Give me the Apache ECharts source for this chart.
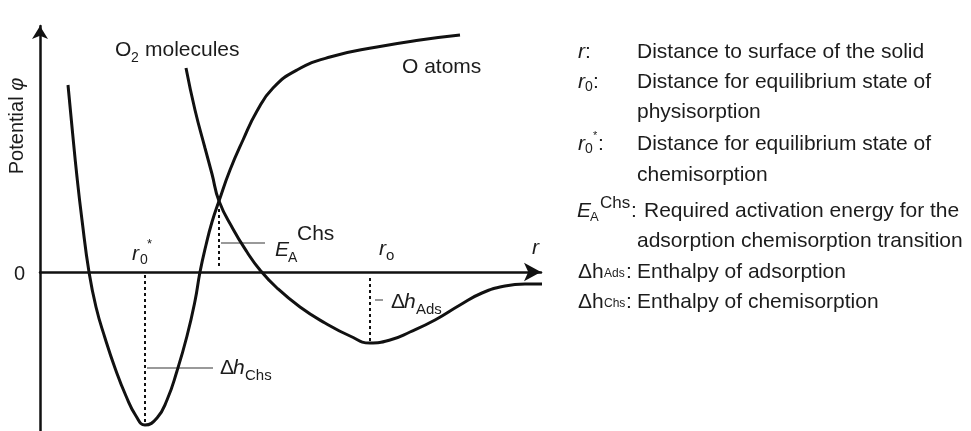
<!DOCTYPE html>
<html>
<head>
<meta charset="utf-8">
<script src="https://cdn.jsdelivr.net/npm/echarts@6/dist/echarts.min.js"></script>
<style>
  html, body { margin: 0; padding: 0; background: #fff; }
  #chart { width: 971px; height: 431px; }
</style>
</head>
<body>
<div id="chart"></div>
<script>
// Potential energy vs. distance r from the solid surface (arbitrary units)
// Chemisorption well: O atoms
const rAtoms   = [5.6, 6.4, 7.4, 8.4, 9.8, 11.2, 13, 15, 17.2, 19.2, 21, 23.4, 25.4, 27.4, 29.4, 31, 32, 33.2, 34.4, 35.8, 38, 40.6, 43.4, 46.6, 51.4, 58, 67.4, 76, 84];
const phiAtoms = [18.7, 14.5, 9.5, 5.2, 0, -3.5, -6.6, -9.6, -12.4, -14.4, -15.3, -14.6, -12.8, -9.9, -6.4, -2.9, 0, 2.7, 5.0, 7.1, 10.2, 13.2, 16.1, 18.4, 20.2, 21.5, 22.5, 23.2, 23.7];
// Physisorption well: O2 molecules
const rMolecules   = [29.2, 31, 33, 34.4, 35.8, 38.6, 41.4, 44, 47.4, 52, 57, 62, 66, 70, 74, 79, 84, 88.4, 93, 97, 100.4];
const phiMolecules = [20.4, 16.2, 12.4, 9.8, 7.1, 4.3, 2.0, 0.2, -1.6, -3.5, -5.1, -6.4, -7.1, -6.8, -6.0, -4.8, -3.3, -2.1, -1.4, -1.2, -1.2];

// Characteristic points
const r0Star = 21;      // equilibrium distance, chemisorption
const dhChs = -15.3;    // enthalpy of chemisorption (well depth)
const rCross = 35.8;    // crossing of the two curves
const eaChs = 7.1;      // activation energy for the transition
const r0 = 66;          // equilibrium distance, physisorption
const dhAds = -7.1;     // enthalpy of adsorption (well depth)

// Legend rows: symbol part and description
const legendRows = [
  { key: 'r', text: 'Distance to surface of the solid' },
  { key: 'r0', text: 'Distance for equilibrium state of' },
  { key: '', text: 'physisorption' },
  { key: 'r0s', text: 'Distance for equilibrium state of' },
  { key: '', text: 'chemisorption' },
  { key: 'EA', text: 'Required activation energy for the' },
  { key: '', text: 'adsorption chemisorption transition' },
  { key: 'dhAds', text: 'Enthalpy of adsorption' },
  { key: 'dhChs', text: 'Enthalpy of chemisorption' }
];

const FONT = '"Liberation Sans", Arial, Helvetica, sans-serif';
const INK = '#1c1c1c';

function txt(x, y, s, size, italic, extra) {
  return Object.assign({
    type: 'text', x: x, y: y, z: 20,
    style: {
      text: s,
      font: (italic ? 'italic ' : '') + size + 'px ' + FONT,
      fill: INK, align: 'left', verticalAlign: 'middle'
    }
  }, extra || {});
}

const zip = (xs, ys) => xs.map((x, i) => [x, ys[i]]);

const chart = echarts.init(document.getElementById('chart'), null, { renderer: 'canvas' });

const lineBase = { type: 'line', showSymbol: false, symbol: 'none', silent: true, animation: false };
const dotted = { color: '#111', width: 2, type: [3, 3] };
const leader = { color: '#777', width: 1.3 };

const option = {
  backgroundColor: '#fff',
  animation: false,
  grid: { left: 40, width: 501, top: 26, bottom: 0 },
  xAxis: {
    type: 'value', min: 0, max: 100.2,
    axisLine: { onZero: true, symbol: ['none', 'arrow'], symbolSize: [14, 17], lineStyle: { color: '#111', width: 2.5 } },
    axisTick: { show: false }, axisLabel: { show: false }, splitLine: { show: false }
  },
  yAxis: {
    type: 'value', min: -15.9, max: 24.6,
    axisLine: { show: true, onZero: false, symbol: ['none', 'arrow'], symbolSize: [12, 13], lineStyle: { color: '#111', width: 2.5 } },
    axisTick: { show: false }, axisLabel: { show: false }, splitLine: { show: false }
  },
  series: [
    Object.assign({}, lineBase, { name: 'O atoms', smooth: 0.5, data: zip(rAtoms, phiAtoms), lineStyle: { color: '#111', width: 3 }, z: 5 }),
    Object.assign({}, lineBase, { name: 'O2 molecules', smooth: 0.5, data: zip(rMolecules, phiMolecules), lineStyle: { color: '#111', width: 3 }, z: 5 }),
    // drop lines
    Object.assign({}, lineBase, { data: [[r0Star, -0.3], [r0Star, dhChs]], lineStyle: dotted }),
    Object.assign({}, lineBase, { data: [[rCross, eaChs - 0.8], [rCross, 0.4]], lineStyle: dotted }),
    Object.assign({}, lineBase, { data: [[r0, -0.6], [r0, dhAds]], lineStyle: dotted }),
    // leader lines for the annotations
    Object.assign({}, lineBase, { data: [[r0Star + 0.4, -9.6], [34.6, -9.6]], lineStyle: leader }),
    Object.assign({}, lineBase, { data: [[rCross + 0.4, 2.9], [45, 2.9]], lineStyle: leader }),
    Object.assign({}, lineBase, { data: [[r0 + 1, -2.8], [68.6, -2.8]], lineStyle: leader })
  ],
  graphic: []
};

const g = [];
// axis annotations
g.push(txt(14, 274, '0', 20, false));
g.push({
  type: 'text', x: 17, y: 126, rotation: Math.PI / 2, z: 20,
  style: {
    text: '{a|Potential }{b|φ}',
    align: 'center', verticalAlign: 'middle',
    rich: {
      a: { font: '20px ' + FONT, fill: INK },
      b: { font: 'italic 20px ' + FONT, fill: INK }
    }
  }
});
// curve names
g.push(txt(115, 50, 'O', 21, false));
g.push(txt(131, 58, '2', 14, false));
g.push(txt(145, 50, 'molecules', 21, false));
g.push(txt(402, 67, 'O atoms', 21, false));
// r0*
g.push(txt(132, 254, 'r', 21, true));
g.push(txt(140, 260, '0', 14, false));
g.push(txt(147, 244, '*', 13, false));
// E_A^Chs
g.push(txt(275, 250, 'E', 21, true));
g.push(txt(288, 258, 'A', 14, false));
g.push(txt(297, 234, 'Chs', 21, false));
// r_o
g.push(txt(379, 249, 'r', 21, true));
g.push(txt(386, 256, 'o', 15, false));
// r
g.push(txt(532, 248, 'r', 21, true));
// Δh_Chs
g.push(txt(220, 368, 'Δ', 21, false));
g.push(txt(233, 368, 'h', 21, true));
g.push(txt(245, 376, 'Chs', 15, false));
// Δh_Ads
g.push(txt(391, 302, 'Δ', 21, false));
g.push(txt(404, 302, 'h', 21, true));
g.push(txt(416, 310, 'Ads', 15, false));

// legend
const rowY = [52, 82, 112, 144, 175, 211, 241, 272, 302];
const symX = 578, descX = 637;
legendRows.forEach((row, i) => {
  const y = rowY[i];
  let dx = descX;
  if (row.key === 'r') {
    g.push(txt(symX, y, 'r', 21, true));
    g.push(txt(symX + 7, y, ':', 21, false));
  } else if (row.key === 'r0') {
    g.push(txt(symX, y, 'r', 21, true));
    g.push(txt(symX + 7, y + 5, '0', 14, false));
    g.push(txt(symX + 15, y, ':', 21, false));
  } else if (row.key === 'r0s') {
    g.push(txt(symX, y, 'r', 21, true));
    g.push(txt(symX + 7, y + 5, '0', 14, false));
    g.push(txt(symX + 15, y - 8, '*', 11, false));
    g.push(txt(symX + 20, y, ':', 21, false));
  } else if (row.key === 'EA') {
    g.push(txt(symX - 1, y, 'E', 21, true));
    g.push(txt(symX + 12, y + 6, 'A', 13, false));
    g.push(txt(symX + 22, y - 8, 'Chs', 17, false));
    g.push(txt(symX + 53, y, ':', 21, false));
    dx = symX + 66;
  } else if (row.key === 'dhAds' || row.key === 'dhChs') {
    g.push(txt(symX, y, 'Δh', 21, false));
    g.push(txt(symX + 26, y + 2, row.key === 'dhAds' ? 'Ads' : 'Chs', 12, false));
    g.push(txt(symX + 48, y, ':', 21, false));
  }
  g.push(txt(dx, y, row.text, 21, false));
});
option.graphic = g;

chart.setOption(option);
</script>
</body>
</html>
